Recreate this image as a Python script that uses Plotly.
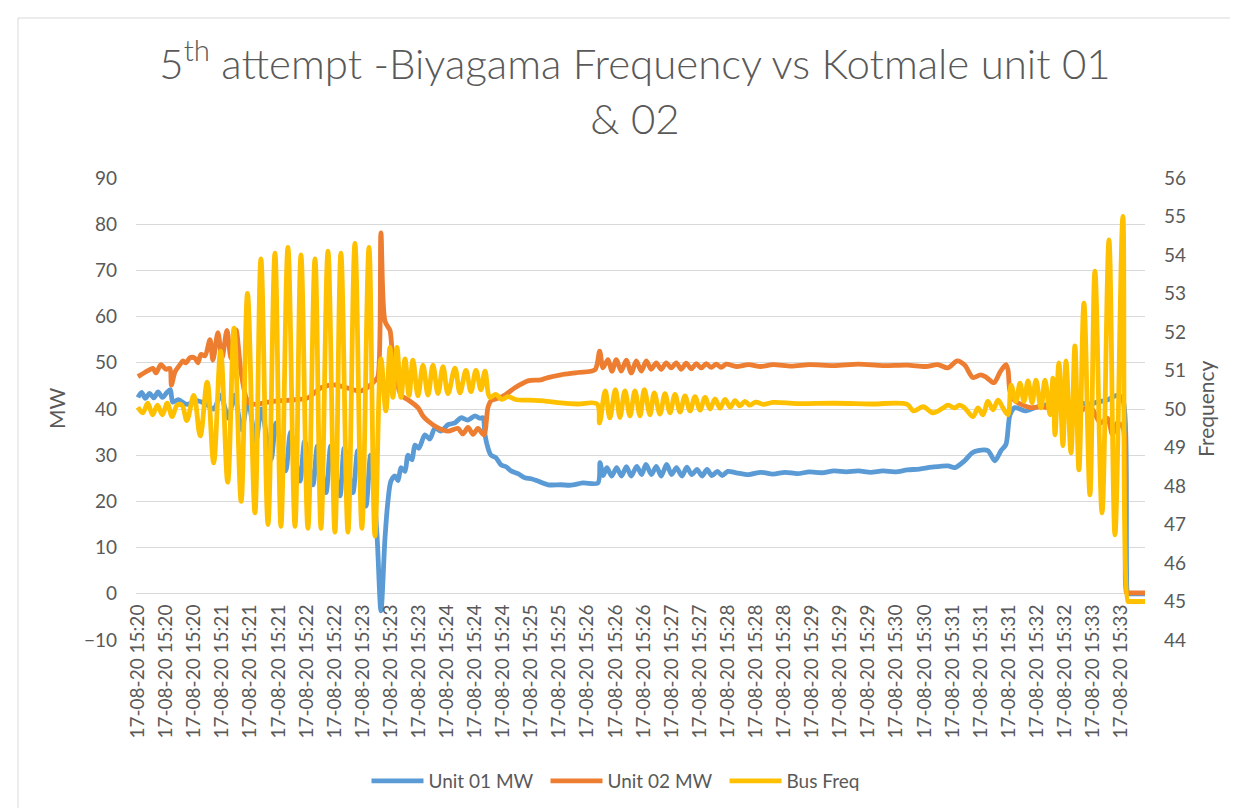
import plotly.graph_objects as go

# ---------------- data ----------------
label_minutes = [20, 20, 20, 21, 21, 21, 22, 22, 23, 23, 23, 24, 24, 24, 25, 25, 26, 26,
                 26, 27, 27, 28, 28, 28, 29, 29, 29, 30, 30, 31, 31, 31, 32, 32, 33, 33]
label_step_s = 23  # seconds between category labels

# Bus frequency (Hz) : time (s from first label) / value
f_t = [0, 4, 8, 12, 16, 20, 24, 28, 32, 36, 40, 45.7, 51, 56.7, 62, 67.7, 73.5, 78.7, 84.5,
       89.7, 95.8, 100.7, 106.5, 112.2, 117.1, 122.8, 128.6, 133.5, 139.2, 145, 149.9, 155.6,
       161.3, 166.2, 172, 177.7, 183.4, 189.2, 194.1, 199, 203, 206.4, 208.8, 212.1, 215.4,
       218.7, 222, 225.2, 229.3, 233.4, 237.5, 241.6, 245.7, 249.8, 253.9, 259.6, 263.7, 268.6,
       272.7, 276.8, 280.9, 284.2, 288.3, 293, 298, 303, 310, 320, 335, 346, 360, 376, 378,
       382.7, 386.4, 391, 394.7, 398.8, 402.9, 407, 411.1, 414.7, 419.3, 422.8, 427.5, 431.6,
       435.7, 439.8, 443.9, 448, 452.1, 456.2, 460.3, 464.4, 468.5, 472.6, 476.7, 480.8, 485,
       489, 493, 497, 501, 506, 512, 520, 540, 570, 600, 630, 635, 643, 651, 659, 663.3, 668.8,
       672.9, 677, 683.8, 687.9, 692, 696.1, 700.2, 704.3, 708.4, 712.5, 715, 719, 722.3, 725.6,
       728.9, 732.2, 735.4, 739.5, 742.8, 746.9, 749.3, 751, 754.2, 757.5, 760, 764.1, 767.3,
       770.6, 774.7, 779.6, 783.7, 789.5, 795.2, 800.1, 806.6, 810.7, 811.5, 824.7]
f_hz = [50.05, 49.9, 50.15, 49.85, 50.1, 49.85, 50.15, 49.8, 50.1, 50.1, 49.7, 50.35, 49.3, 50.7,
        48.6, 51.5, 48.1, 52.1, 47.6, 53.0, 47.3, 53.9, 47.0, 54.05, 46.95, 54.2, 46.95, 54.0,
        46.9, 53.9, 46.9, 54.1, 46.8, 54.05, 46.8, 54.3, 46.9, 54.2, 46.7, 51.3, 49.95, 51.6,
        50.3, 51.6, 50.3, 51.3, 50.35, 51.27, 50.34, 51.14, 50.36, 51.14, 50.4, 51.1, 50.4,
        51.06, 50.42, 51.0, 50.45, 51.0, 50.5, 50.98, 50.3, 50.38, 50.25, 50.32, 50.24, 50.23,
        50.2, 50.16, 50.13, 50.13, 49.64, 50.47, 49.77, 50.5, 49.78, 50.47, 49.82, 50.47, 49.82,
        50.5, 49.85, 50.42, 49.87, 50.4, 49.9, 50.38, 49.92, 50.34, 49.95, 50.32, 49.97, 50.3,
        50.0, 50.26, 50.02, 50.25, 50.05, 50.22, 50.08, 50.2, 50.1, 50.18, 50.12, 50.17, 50.14,
        50.15, 50.13, 50.12, 49.95, 50.06, 49.9, 50.02, 50.1, 50.03, 50.1, 50.03, 49.8, 50.03,
        49.85, 50.2, 49.98, 50.23, 50.03, 49.85, 50.62, 50.2, 50.67, 50.2, 50.73, 50.16, 50.75,
        50.03, 50.75, 49.85, 50.8, 49.33, 51.2, 49.05, 51.25, 48.86, 51.64, 48.42, 52.75, 47.77,
        53.58, 47.3, 54.39, 46.73, 55.0, 45.0, 45.0, 45.0]

# Unit 01 MW
u1_t = [0, 3, 6, 9.5, 13, 16.5, 20, 23.5, 26.5, 28.5, 33, 40, 48, 56, 62, 67.7, 74, 79, 85, 90,
        96.6, 101, 109, 113, 121, 125, 132.7, 136.5, 143.3, 147, 154, 158, 165.4, 169, 176, 180,
        186.7, 190.5, 195.7, 199, 202.3, 204.7, 207.2, 210.5, 213, 215.4, 218.7, 221.1, 224.4,
        226.8, 230, 235, 239, 243.2, 248, 253.9, 259.6, 264.5, 270, 276, 280, 282.5, 284.2,
        286.6, 289.1, 293, 297.3, 301.4, 305.5, 311.2, 316.9, 322, 327.6, 335.8, 346.4, 354.6,
        364.4, 376.7, 378.4, 381, 384, 388, 392, 396, 400, 404, 408.5, 412.5, 416, 420.5, 424.5,
        428.5, 433, 437, 441, 445.5, 449.5, 453.5, 458, 462, 466, 470, 474.5, 478.5, 483, 490,
        500, 510, 520, 530, 540, 550, 560, 570, 580, 590, 600, 610, 620, 630, 640, 650, 663.3,
        669, 677, 683, 688, 696, 701.8, 706.8, 710.8, 714.1, 718.2, 726.4, 734.6, 745, 753,
        761.6, 770, 778, 786, 794.3, 802.5, 806.6, 810.7, 811.5, 824.7]
u1_mw = [42.5, 43.6, 42.3, 43.4, 42.4, 43.7, 42.5, 43.5, 44.2, 41.5, 42.0, 41.0, 41.8, 41.0,
         40.0, 43.0, 38.0, 43.0, 35.5, 42.0, 33.0, 40.0, 29.0, 37.0, 26.6, 35.0, 24.4, 33.0,
         23.6, 32.0, 21.9, 32.0, 21.2, 31.5, 21.9, 31.0, 19.0, 30.0, 13.0, -3.7, 12.0, 20.0,
         24.4, 25.5, 24.5, 27.3, 26.5, 30.0, 29.0, 32.2, 31.5, 34.4, 33.5, 35.9, 35.2, 36.6,
         37.0, 38.1, 37.6, 38.5, 38.0, 38.1, 34.4, 31.6, 30.0, 29.5, 27.9, 27.5, 26.6, 26.0,
         25.1, 24.9, 24.4, 23.6, 23.6, 23.5, 24.0, 24.0, 28.4, 25.6, 27.3, 25.5, 27.3, 25.5,
         27.5, 25.5, 27.6, 25.8, 28.0, 25.8, 27.6, 25.5, 28.0, 25.8, 27.3, 25.5, 27.4, 25.8,
         26.9, 25.5, 26.9, 25.6, 26.5, 25.6, 26.5, 26.2, 25.8, 26.3, 25.9, 26.3, 26.0, 26.4,
         26.2, 26.6, 26.4, 26.6, 26.3, 26.6, 26.4, 26.8, 27.0, 27.4, 27.7, 27.3, 28.8, 30.5,
         31.0, 31.0, 28.8, 31.0, 32.3, 38.7, 40.3, 39.6, 40.3, 41.0, 41.5, 41.0, 41.5, 41.0,
         41.5, 42.0, 43.0, 42.0, 0.0, 0.0, 0.0]

# Unit 02 MW
u2_t = [0, 8.2, 12.3, 14.7, 18.8, 22.9, 26.2, 27.4, 30.3, 34.4, 36.9, 39.3, 42.6, 46.7, 49.1,
        51.6, 54.9, 59, 61.4, 65.5, 68.8, 72.9, 76.2, 80.3, 84.4, 90.1, 95.8, 106.5, 117.1,
        128.6, 139.2, 149.9, 161.3, 172, 182.6, 194.1, 196.5, 199, 202.3, 206.4, 208, 211.3,
        215.4, 221.1, 229.3, 233.4, 237.5, 245.7, 253.9, 262, 266, 270.3, 274.4, 278.4, 283.3,
        286.6, 289.1, 294.8, 300.5, 308.7, 319.4, 330, 335.8, 346.4, 360.4, 374.3, 378.1,
        380.8, 384.9, 388.2, 391.7, 395.8, 399.9, 404, 408.1, 412.2, 416.3, 420.3, 424.4,
        428.5, 432.6, 436.7, 440.8, 444.9, 449, 453.1, 457.2, 461.3, 465.4, 469.5, 473.6,
        477.6, 481.7, 490, 500, 510, 520, 535, 550, 570, 590, 610, 630, 645, 655, 663.3, 671,
        677, 683.8, 690, 694, 701, 706, 710.8, 712.5, 714.1, 718.2, 731, 740, 750, 760, 770,
        780, 788, 794, 798, 802, 806.6, 809.5, 810.5, 824.7]
u2_mw = [47.0, 48.3, 48.8, 47.8, 49.6, 48.6, 48.8, 45.2, 48.0, 49.6, 50.4, 50.0, 51.1, 51.0,
         50.0, 51.8, 51.5, 55.0, 50.6, 56.5, 51.0, 57.0, 51.0, 57.1, 48.0, 41.5, 41.0, 41.5,
         41.8, 42.0, 42.4, 44.6, 45.2, 44.5, 43.9, 46.1, 47.0, 78.1, 59.0, 57.0, 53.0, 47.0,
         43.0, 42.0, 40.3, 38.5, 37.4, 35.9, 35.2, 35.8, 34.6, 36.0, 34.5, 35.8, 34.4, 40.3,
         41.8, 42.3, 43.0, 44.6, 46.1, 46.3, 46.8, 47.4, 47.9, 48.5, 52.5, 48.9, 50.7, 48.2,
         50.7, 48.2, 50.6, 47.8, 50.4, 48.2, 50.4, 48.6, 50.0, 48.6, 50.0, 48.9, 50.0, 48.6,
         49.9, 48.7, 49.8, 48.9, 49.8, 49.0, 49.7, 49.0, 49.7, 49.2, 49.6, 49.2, 49.6, 49.3,
         49.6, 49.4, 49.7, 49.4, 49.5, 49.2, 49.6, 48.9, 50.4, 49.5, 46.8, 47.4, 47.0, 45.7,
         48.0, 49.6, 48.5, 43.9, 41.8, 40.3, 40.5, 40.0, 40.8, 39.5, 40.5, 37.0, 38.0, 34.5,
         37.0, 36.0, 0.2, 0.2, 0.2]

# ---------------- styling ----------------
FONT = "Lato"
TXT = "#595959"
GRID = "#D9D9D9"
W, H = 1238, 808
L, R, T, B = 128, 101, 170, 176
pw, ph = W - L - R, H - T - B

tick_text = ["17-08-20 15:%02d" % m for m in label_minutes]
tick_vals = [i * label_step_s for i in range(len(label_minutes))]

fig = go.Figure()
fig.add_trace(go.Scatter(x=u1_t, y=u1_mw, name="Unit 01 MW", mode="lines",
                         line=dict(color="#5B9BD5", width=4.8, shape="spline", smoothing=0.8)))
fig.add_trace(go.Scatter(x=u2_t, y=u2_mw, name="Unit 02 MW", mode="lines",
                         line=dict(color="#ED7D31", width=4.8, shape="spline", smoothing=0.8)))
fig.add_trace(go.Scatter(x=f_t, y=f_hz, name="Bus Freq", mode="lines", yaxis="y2",
                         line=dict(color="#FFC000", width=4.8, shape="spline", smoothing=1.0)))

zero_pos = (0 - (-10)) / 100.0

fig.update_layout(
    width=W, height=H,
    margin=dict(l=L, r=R, t=T, b=B, autoexpand=False),
    paper_bgcolor="white", plot_bgcolor="white",
    font=dict(family=FONT, color=TXT, size=19),
    title=dict(text="5<sup>th</sup> attempt -Biyagama Frequency vs Kotmale unit 01<br>& 02",
               font=dict(family=FONT, size=42, color=TXT, weight=300),
               x=627 / W, xanchor="center", xref="container",
               y=1 - 71 / H, yanchor="middle", yref="container"),
    xaxis=dict(range=[-1.6, 824.7], tickmode="array", tickvals=tick_vals, ticktext=tick_text,
               tickangle=-90, showgrid=False, zeroline=False, showline=False, ticks="",
               anchor="free", position=zero_pos, ticklabelstandoff=6,
               tickfont=dict(family=FONT, size=19, color=TXT)),
    yaxis=dict(range=[-10, 90], dtick=10, tick0=0, showgrid=True, gridcolor=GRID, gridwidth=1,
               zeroline=False, showline=False, ticks="", ticklabelstandoff=18,
               tickfont=dict(family=FONT, size=19, color=TXT)),
    yaxis2=dict(range=[44, 56], dtick=1, tick0=44, overlaying="y", side="right",
                showgrid=False, zeroline=False, showline=False, ticks="", ticklabelstandoff=18,
                tickfont=dict(family=FONT, size=19, color=TXT)),
    legend=dict(orientation="h", xref="container", yref="container", x=627 / W,
                xanchor="center", y=1 - 773 / H, yanchor="middle", itemwidth=52,
                entrywidth=112,
                font=dict(family=FONT, size=19, color=TXT), bgcolor="rgba(0,0,0,0)"),
    showlegend=True,
    annotations=[
        dict(text="MW", textangle=-90, xref="paper", yref="paper",
             x=(48 - L) / pw, y=0.5, xanchor="center", yanchor="middle", showarrow=False,
             font=dict(family=FONT, size=21, color=TXT)),
        dict(text="Frequency", textangle=-90, xref="paper", yref="paper",
             x=(1197 - L) / pw, y=0.5, xanchor="center", yanchor="middle", showarrow=False,
             font=dict(family=FONT, size=21, color=TXT)),
    ],
    shapes=[dict(type="rect", xref="paper", yref="paper",
                 x0=(10 - L) / pw, x1=(W + 5 - L) / pw,
                 y0=(H - B - (H + 5)) / ph, y1=(H - B - 10) / ph,
                 line=dict(color=GRID, width=1), fillcolor="rgba(0,0,0,0)", layer="below")],
)

fig.write_html("out.html")
